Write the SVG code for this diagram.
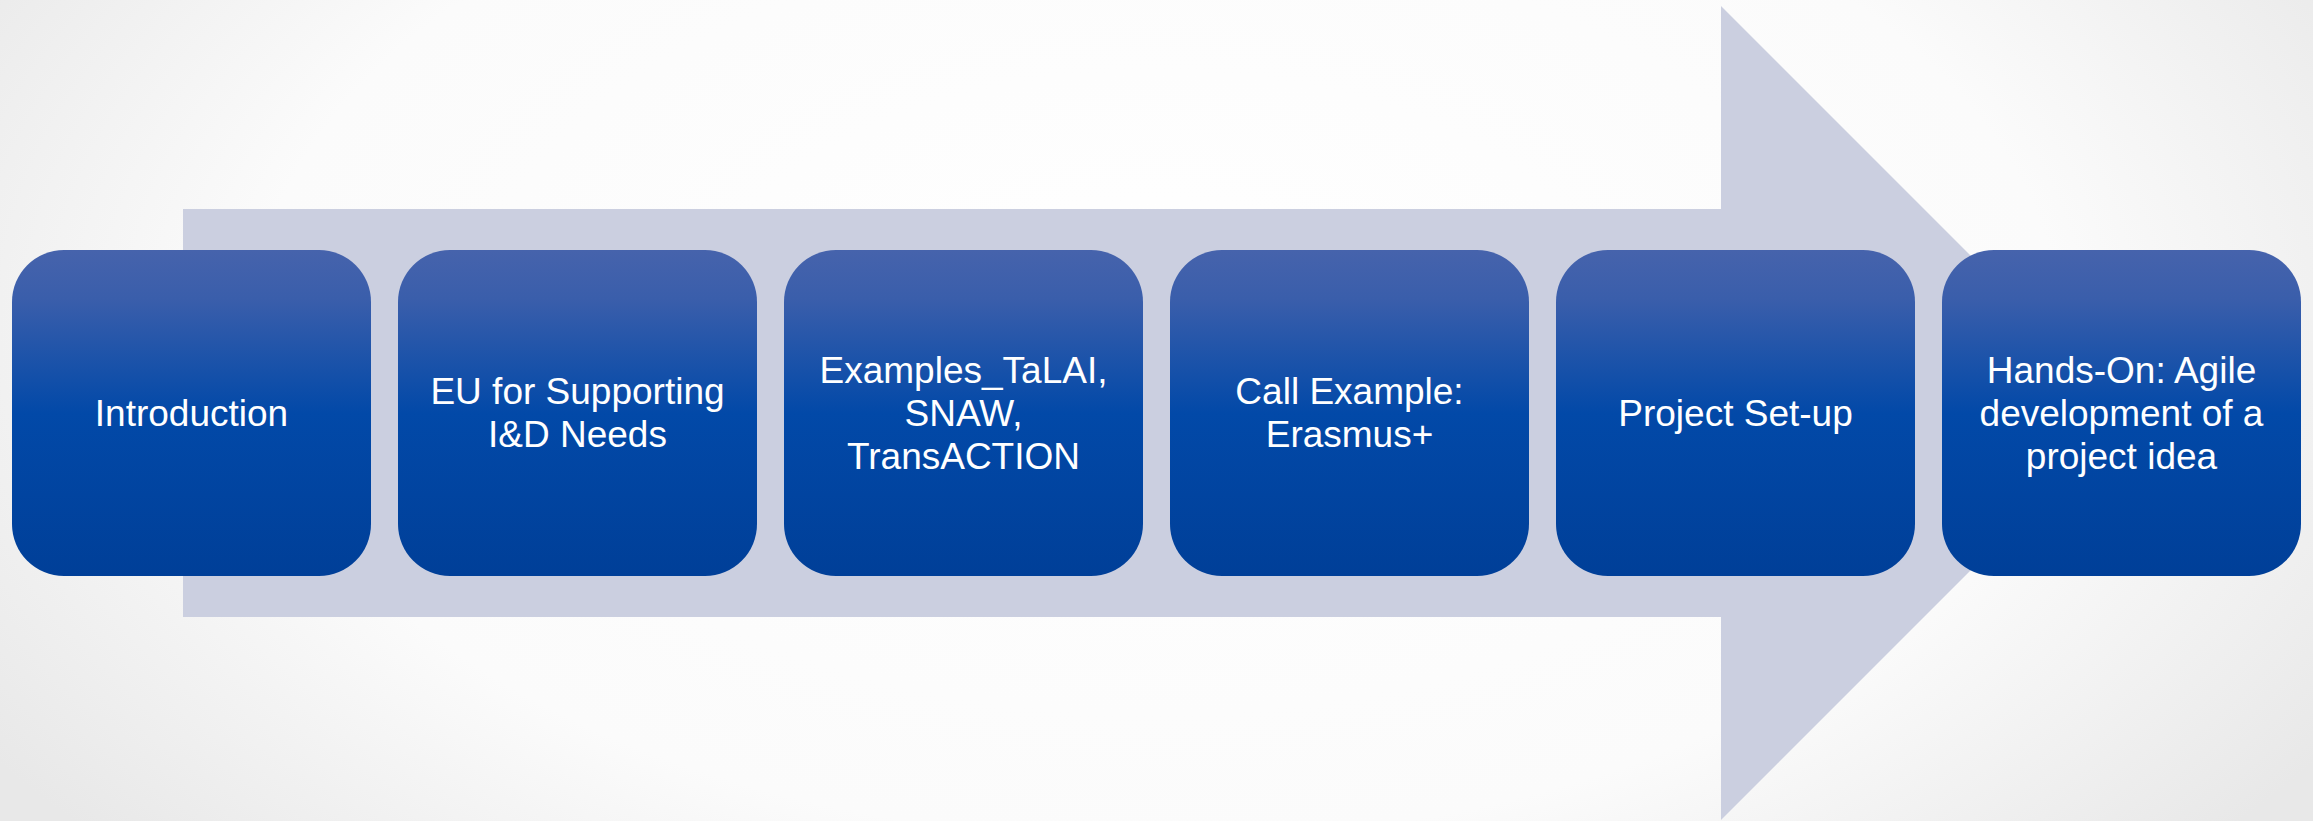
<svg xmlns="http://www.w3.org/2000/svg" width="2313" height="821" viewBox="0 0 2313 821">
<defs>
<radialGradient id="bg" cx="0.5" cy="0.4" r="0.6" gradientTransform="translate(0.5 0.4) scale(1 1.6) translate(-0.5 -0.4)">
<stop offset="0" stop-color="#ffffff"/>
<stop offset="0.65" stop-color="#fbfbfb"/>
<stop offset="1" stop-color="#e8e8e8"/>
</radialGradient>
<linearGradient id="box" x1="0" y1="0" x2="0" y2="1">
<stop offset="0" stop-color="#4663ac"/>
<stop offset="0.15" stop-color="#3a5eab"/>
<stop offset="0.5" stop-color="#0249a8"/>
<stop offset="1" stop-color="#003f98"/>
</linearGradient>
<style>
.node rect{fill:url(#box);}
.node text{fill:#ffffff;font-family:"Liberation Sans",Arial,sans-serif;font-size:37px;text-anchor:middle;}
</style>
</defs>
<rect x="0" y="0" width="2313" height="821" fill="url(#bg)"/>
<g id="connectors">
<polygon points="183,209 1721,209 1721,6 2128,413 1721,820 1721,617 183,617" fill="#cbcfe0"/>
</g>
<g id="n1" class="node"><rect x="12" y="250" width="359" height="326" rx="52"/><text x="191.5" y="426">Introduction</text></g>
<g id="n2" class="node"><rect x="398" y="250" width="359" height="326" rx="52"/><text x="577.5" y="404">EU for Supporting</text><text x="577.5" y="447">I&amp;D Needs</text></g>
<g id="n3" class="node"><rect x="784" y="250" width="359" height="326" rx="52"/><text x="963.5" y="383">Examples_TaLAI,</text><text x="963.5" y="426">SNAW,</text><text x="963.5" y="469">TransACTION</text></g>
<g id="n4" class="node"><rect x="1170" y="250" width="359" height="326" rx="52"/><text x="1349.5" y="404">Call Example:</text><text x="1349.5" y="447">Erasmus+</text></g>
<g id="n5" class="node"><rect x="1556" y="250" width="359" height="326" rx="52"/><text x="1735.5" y="426">Project Set-up</text></g>
<g id="n6" class="node"><rect x="1942" y="250" width="359" height="326" rx="52"/><text x="2121.5" y="383">Hands-On: Agile</text><text x="2121.5" y="426">development of a</text><text x="2121.5" y="469">project idea</text></g>
</svg>
